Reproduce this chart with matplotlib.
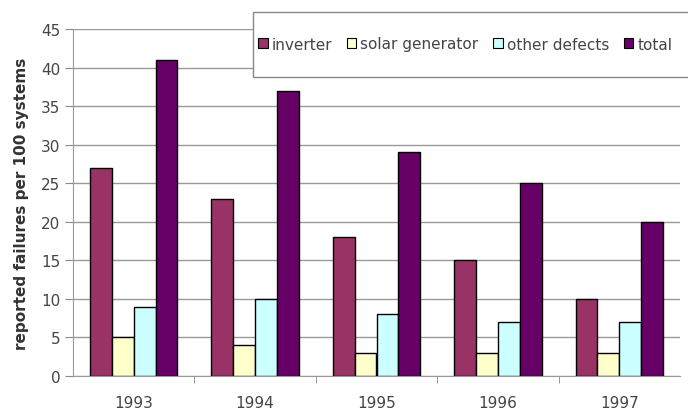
import matplotlib
matplotlib.use("Agg")
import matplotlib.pyplot as plt
from matplotlib.patches import Rectangle, Patch
import numpy as np

plt.rcParams['font.family'] = ['DejaVu Sans']

years = ["1993", "1994", "1995", "1996", "1997"]
series_names = ["inverter", "solar generator", "other defects", "total"]
inverter = [27, 23, 18, 15, 10]
solar_generator = [5, 4, 3, 3, 3]
other_defects = [9, 10, 8, 7, 7]
total = [41, 37, 29, 25, 20]
colors = ["#993366", "#FFFFCC", "#CCFFFF", "#660066"]
y_ticks = list(range(0, 50, 5))

fig = plt.figure(figsize=(6.88, 4.14), dpi=100)
ax = fig.add_axes([73 / 688, 37 / 414, 607 / 688, 347 / 414])

values = [inverter, solar_generator, other_defects, total]
x = np.arange(len(years))
bw = 0.18
for i, (vals, c) in enumerate(zip(values, colors)):
    ax.bar(x + (i - 1.5) * bw, vals, bw, color=c, edgecolor="black",
           linewidth=1.0, zorder=3)

ax.set_xlim(-0.5, len(years) - 0.5)
ax.set_ylim(0, 45)
ax.set_yticks(y_ticks)
ax.set_xticks(x)
ax.set_xticklabels(years)
ax.set_xticks(np.arange(0.5, len(years) - 0.5, 1), minor=True)
ax.tick_params(axis="x", which="major", length=0, pad=14)
ax.tick_params(axis="x", which="minor", length=5, color="#888888")
ax.tick_params(axis="y", length=6, color="#888888", pad=3)
ax.tick_params(labelsize=11, labelcolor="#444444")
ax.grid(axis="y", color="#999999", linewidth=1.0, zorder=0)
for s in ["top", "right"]:
    ax.spines[s].set_visible(False)
for s in ["left", "bottom"]:
    ax.spines[s].set_color("#999999")
ax.set_ylabel("reported failures per 100 systems", fontsize=11,
              fontweight="bold", color="#333333", labelpad=9)

# legend box, running past the right edge of the figure
fig.patches.append(Rectangle((253 / 688, 1 - 78 / 414), 0.7, 65 / 414,
                             transform=fig.transFigure, facecolor="white",
                             edgecolor="#888888", linewidth=1.0, zorder=5))
handles = [Patch(facecolor=c, edgecolor="black", linewidth=0.8) for c in colors]
fig.legend(handles, series_names, loc="center left",
           bbox_to_anchor=(250 / 688, 1 - 45 / 414), ncol=4, frameon=False,
           fontsize=11, handlelength=0.65, handleheight=0.65,
           handletextpad=0.25, columnspacing=0.95, borderpad=0,
           labelcolor="#444444")

fig.savefig("out.png", dpi=100)
